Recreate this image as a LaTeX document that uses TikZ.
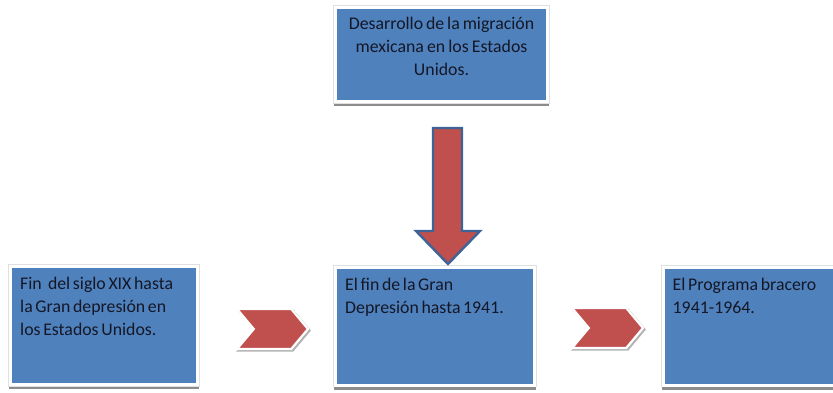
\documentclass[tikz,border=0pt]{standalone}
\usepackage{fontspec}
\setmainfont{Carlito}
\usetikzlibrary{shapes.symbols}
\definecolor{boxblue}{HTML}{4F81BD}
\definecolor{arrred}{HTML}{C0504D}
\definecolor{arredge}{HTML}{3E6497}
\definecolor{txtdark}{HTML}{141726}
\tikzset{
  etapa/.style={rectangle, fill=boxblue, draw=white, line width=3pt, inner sep=0pt,
    preaction={draw=black!45, fill=black!45, line width=3pt, transform canvas={yshift=-3pt}},
    preaction={draw=black!12, line width=4.4pt}},
  texto/.style={inner sep=0pt, text=txtdark, font=\fontsize{17.8}{23}\selectfont,
    execute at begin node={\spaceskip=0.15em plus 0.05em\relax}},
  flecha/.style={signal, signal from=west, signal to=east, signal pointer angle=100,
    fill=arrred, draw=white, line width=2.2pt, inner sep=0pt,
    minimum width=71pt, minimum height=40pt,
    preaction={draw=black!30, line width=2.2pt, transform canvas={xshift=1.5pt, yshift=-1.5pt}}}
}
\begin{document}
\begin{tikzpicture}[x=1pt, y=-1pt]
\useasboundingbox (0,0) rectangle (833,393);
\clip (0,0) rectangle (833,393);
% cajas
\node[etapa, minimum width=212pt, minimum height=94pt] (desarrollo) at (441.5,54.5) {};
\node[etapa, minimum width=187pt, minimum height=118pt] (fin) at (104,325.5) {};
\node[etapa, minimum width=199pt, minimum height=118pt] (depresion) at (435,326) {};
\node[etapa, minimum width=199pt, minimum height=118pt] (bracero) at (762.5,326) {};
% textos
\node[texto, text width=206pt, align=center, anchor=base] (t0) at ([yshift=-23.5pt]desarrollo.north)
  {Desarrollo de la migración\\mexicana en los Estados\\Unidos.};
\node[texto, text width=180pt, align=left, anchor=base west] (t1) at ([shift={(11pt,-24.5pt)}]fin.north west)
  {Fin\hspace{0.35em}del siglo XIX hasta\\la Gran depresión en\\los Estados Unidos.};
\node[texto, text width=180pt, align=left, anchor=base west] (t2) at ([shift={(11pt,-24.5pt)}]depresion.north west)
  {El fin de la Gran\\Depresión hasta 1941.};
\node[texto, text width=180pt, align=left, anchor=base west] (t3) at ([shift={(11pt,-24.5pt)}]bracero.north west)
  {El Programa bracero\\1941-1964.};
% flechas
\node[flecha] (f1) at (272.5,329) {};
\node[flecha] (f2) at (607.5,328) {};
\coordinate (punta) at (448,264);
\draw[fill=arrred, draw=arredge, line width=2.4pt, line join=miter]
  (433,128) -- (462,128) -- (462,231) -- (480,231) -- (punta) -- (416,231) -- (433,231) -- cycle;
\end{tikzpicture}
\end{document}
